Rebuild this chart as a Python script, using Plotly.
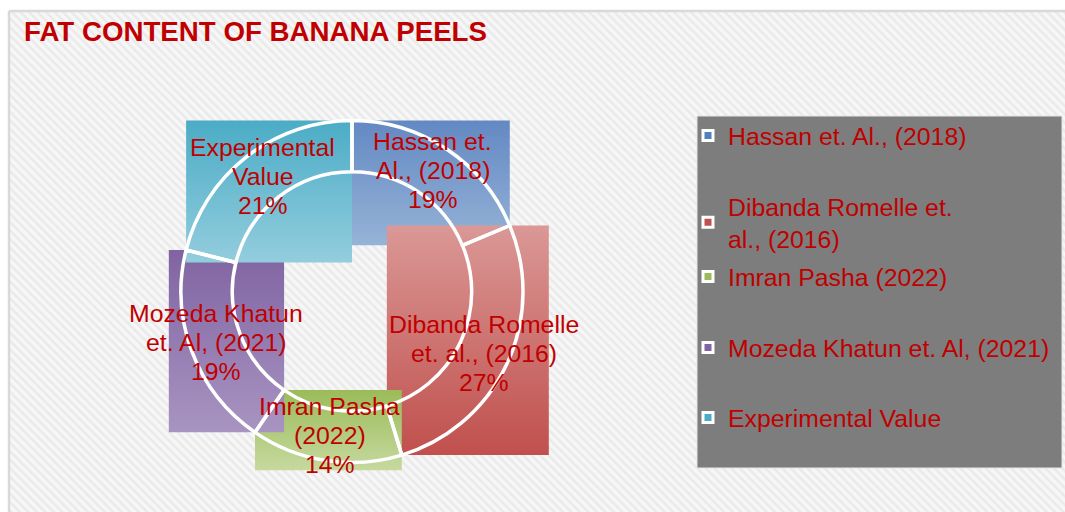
import math
import plotly.graph_objects as go

# ---------------- data ----------------
studies = ["Hassan et. Al., (2018)", "Dibanda Romelle et. al., (2016)", "Imran Pasha (2022)",
           "Mozeda Khatun et. Al, (2021)", "Experimental Value"]
fat_share = [18.7, 26.6, 14.3, 19.3, 21.1]
slice_labels = [["Hassan et.", "Al., (2018)"], ["Dibanda Romelle", "et. al., (2016)"], ["Imran Pasha", "(2022)"],
                ["Mozeda Khatun", "et. Al, (2021)"], ["Experimental", "Value"]]
legend_labels = ["Hassan et. Al., (2018)", "Dibanda Romelle et.<br>al., (2016)", "Imran Pasha (2022)",
                 "Mozeda Khatun et. Al, (2021)", "Experimental Value"]
title_text = "FAT CONTENT OF BANANA PEELS"

# ---------------- style ----------------
W, H = 1065, 512
CX, CY, R_OUT = 352, 291.5, 171
HOLE = 0.70
R_IN = R_OUT * HOLE
FONT = "Liberation Sans, Arial, sans-serif"
RED = "#C00000"
LINE_STEP = 29
base_colors = ["#4F81BD", "#C0504D", "#9BBB59", "#8064A2", "#4BACC6"]
grad_top = ["#6389c3", "#da9896", "#9bbb59", "#8064a2", "#4bacc6"]
grad_bottom = ["#96b3d7", "#c0504d", "#c6d99f", "#a894c1", "#93cddd"]
legend_centers = [136, 222.5, 277, 348, 418]
LEG_X = 688

total = sum(fat_share)


def pt(r, a):
    t = math.radians(a)
    return CX + r * math.sin(t), CY - r * math.cos(t)


def tang(a):
    t = math.radians(a)
    return math.cos(t), math.sin(t)


def arc_ctrl(r, a0, a1):
    h = 4.0 / 3.0 * math.tan(math.radians(a1 - a0) / 4.0) * r
    p0, p1 = pt(r, a0), pt(r, a1)
    t0, t1 = tang(a0), tang(a1)
    c1 = (p0[0] + h * t0[0], p0[1] + h * t0[1])
    c2 = (p1[0] - h * t1[0], p1[1] - h * t1[1])
    return [p0, c1, c2, p1]


fig = go.Figure()

# background with diagonal stripes and a light frame
fig.add_trace(go.Scatter(
    x=[9, 1080, 1080, 9, 9], y=[11, 11, 530, 530, 11], mode="lines", fill="toself",
    line=dict(color="#d9d9d9", width=2.5),
    fillpattern=dict(shape="\\", size=6, solidity=0.45, fgcolor="#dedede", bgcolor="#f7f7f7"),
    hoverinfo="skip", showlegend=False))

# gradient boxes of the slices + labels
cum = 0.0
for i, v in enumerate(fat_share):
    a0 = cum / total * 360.0
    cum += v
    a1 = cum / total * 360.0
    pts = arc_ctrl(R_OUT, a0, a1) + arc_ctrl(R_IN, a0, a1)
    xs = [p[0] for p in pts]
    ys = [p[1] for p in pts]
    x0, x1, y0, y1 = min(xs), max(xs), min(ys), max(ys)
    fig.add_trace(go.Scatter(
        x=[x0, x1, x1, x0, x0], y=[y0, y0, y1, y1, y0], mode="lines", fill="toself",
        line=dict(width=0),
        fillgradient=dict(type="vertical", colorscale=[[0, grad_top[i]], [1, grad_bottom[i]]],
                          start=y0, stop=y1),
        hoverinfo="skip", showlegend=False))
    am = (a0 + a1) / 2.0
    lx, ly = pt((R_OUT + R_IN) / 2.0, am)
    lines = slice_labels[i] + [f"{round(v / total * 100)}%"]
    n = len(lines)
    for k, line in enumerate(lines):
        fig.add_annotation(x=lx, y=ly + (k - (n - 1) / 2.0) * LINE_STEP, xref="x", yref="y",
                           showarrow=False, text=line,
                           font=dict(family=FONT, size=24.8, color=RED),
                           xanchor="center", yanchor="middle", align="center")

# doughnut outline
fig.add_trace(go.Pie(
    labels=studies, values=fat_share, sort=False, direction="clockwise", rotation=0,
    hole=HOLE, textinfo="none", showlegend=False,
    marker=dict(colors=["rgba(0,0,0,0)"] * len(studies), line=dict(color="white", width=3.5)),
    domain=dict(x=[(CX - R_OUT) / W, (CX + R_OUT) / W],
                y=[1 - (CY + R_OUT) / H, 1 - (CY - R_OUT) / H])))

# legend entries
legends = {}
for i, name in enumerate(studies):
    key = "legend" if i == 0 else f"legend{i + 1}"
    fig.add_trace(go.Scatter(
        x=[None], y=[None], mode="markers", name=legend_labels[i], legend=key,
        marker=dict(symbol="square", size=10, color=base_colors[i], line=dict(color="white", width=3)),
        showlegend=True))
    legends[key] = dict(x=LEG_X / W, xanchor="left", y=1 - legend_centers[i] / H, yanchor="middle",
                        bgcolor="rgba(0,0,0,0)", borderwidth=0,
                        font=dict(family=FONT, size=24.8, color=RED))

fig.add_shape(type="rect", xref="x", yref="y", x0=697, x1=1062, y0=116, y1=468,
              fillcolor="#7d7d7d", line=dict(color="#e6e6e6", width=1), layer="above")

fig.update_layout(
    width=W, height=H, margin=dict(l=0, r=0, t=0, b=0),
    paper_bgcolor="white", plot_bgcolor="white",
    xaxis=dict(range=[0, W], visible=False, fixedrange=True),
    yaxis=dict(range=[H, 0], visible=False, fixedrange=True),
    title=dict(text=f"<b>{title_text}</b>", x=24 / W, xanchor="left", xref="paper",
               y=1 - 31 / H, yref="paper", yanchor="middle",
               font=dict(family=FONT, size=27.7, color=RED)),
    **legends)

fig.write_html("out.html")
